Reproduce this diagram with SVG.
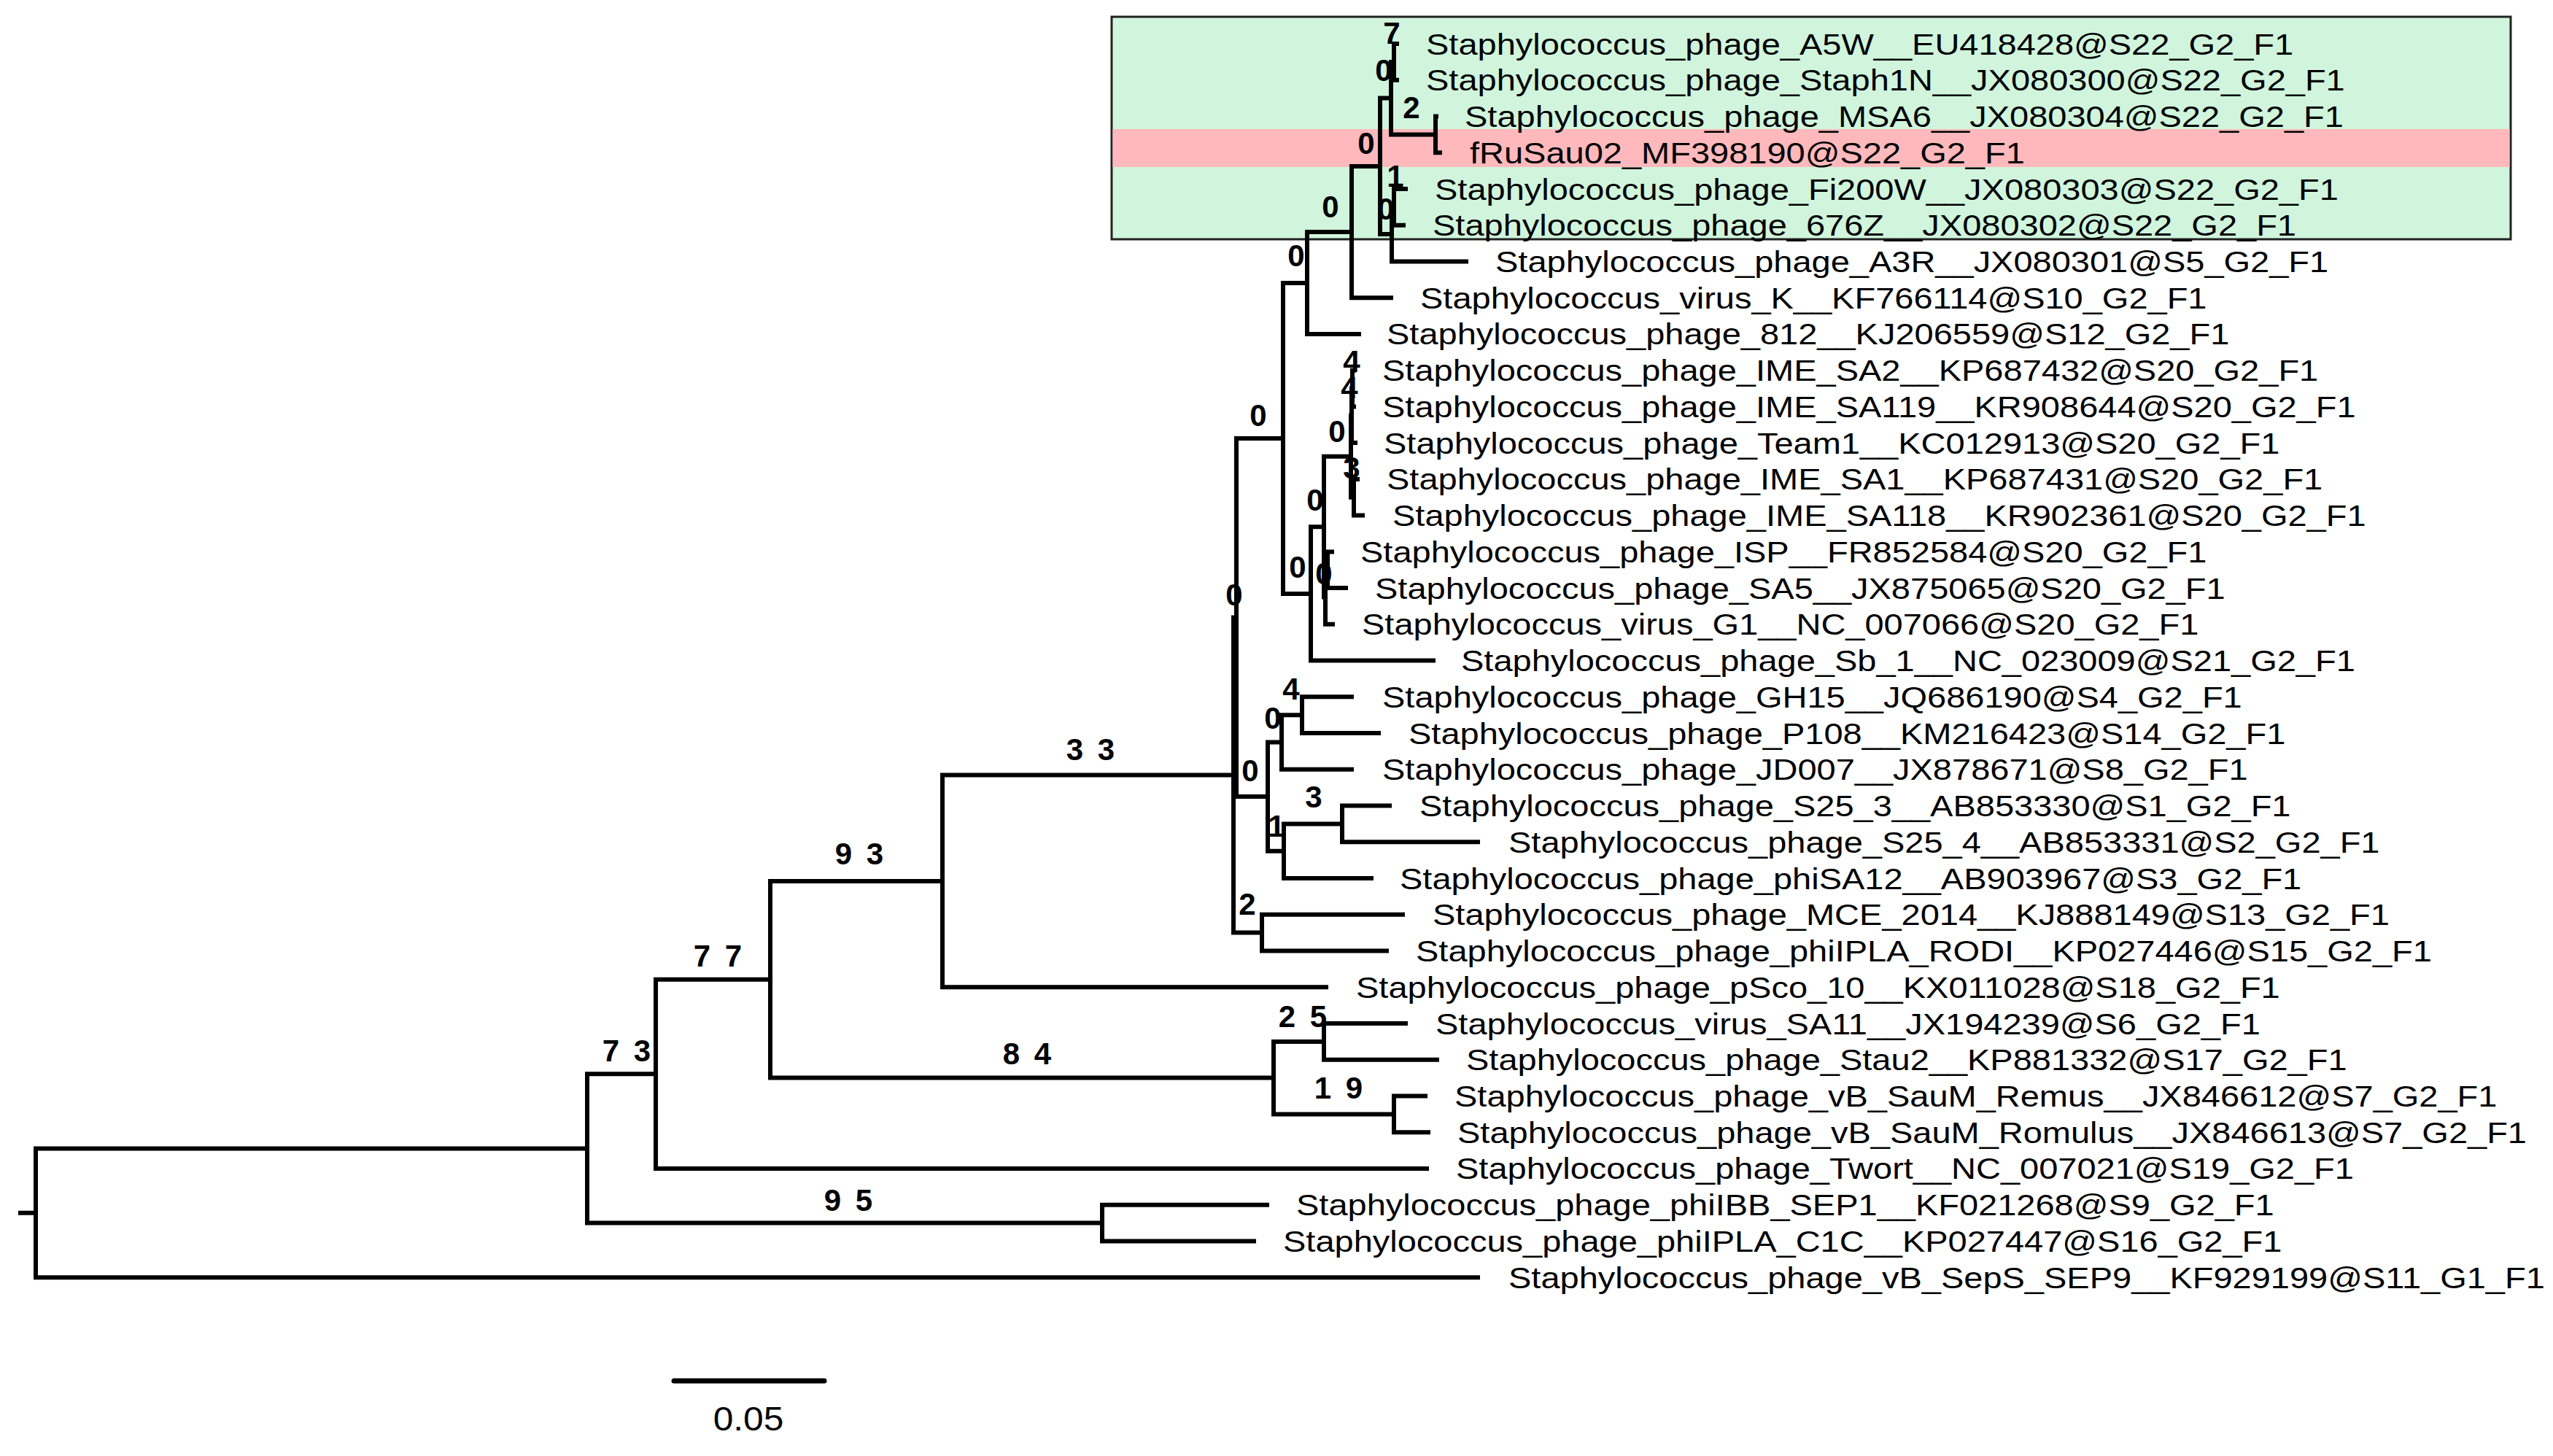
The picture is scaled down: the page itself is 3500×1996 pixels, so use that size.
<svg xmlns="http://www.w3.org/2000/svg" width="3500" height="1996" viewBox="0 0 3500 1996">
<style>
.br{fill:none;stroke:#000;stroke-width:6;stroke-linecap:square;stroke-linejoin:miter}
.leaf{font-family:"Liberation Sans",Arial,sans-serif;font-size:40px;fill:#000}
.bs{font-family:"Liberation Sans",Arial,sans-serif;font-size:42px;font-weight:bold;fill:#000;text-anchor:middle}
.bs2{font-family:"Liberation Sans",Arial,sans-serif;font-size:42px;font-weight:bold;fill:#000;text-anchor:middle;letter-spacing:4px}
.scale{fill:none;stroke:#000;stroke-width:7;stroke-linecap:round}
.sl{font-family:"Liberation Sans",Arial,sans-serif;font-size:46px;fill:#000;text-anchor:middle}
</style>
<rect width="3500" height="1996" fill="#fff"/>
<g id="highlight">
<rect x="1524" y="23" width="1918" height="305" fill="#D0F5DC" stroke="#222" stroke-width="3"/>
<rect x="1525.5" y="177" width="1915" height="52" fill="#FFB9BC"/>
</g>
<g id="connectors">
<path class="br" d="M28,1662.8H49M49,1574.4V1751.2M49,1574.4H805M49,1751.2H2026"/>
<path class="br" d="M805,1472.3V1676.6M805,1472.3H899M805,1676.6H1511"/>
<path class="br" d="M899,1342.8V1601.9M899,1342.8H1056M899,1601.9H1956"/>
<path class="br" d="M1056,1207.9V1477.6M1056,1207.9H1292M1056,1477.6H1746"/>
<path class="br" d="M1292,1062.6V1353.2M1292,1062.6H1691M1292,1353.2H1818"/>
<path class="br" d="M1691,846.5V1278.6M1691,846.5H1695M1691,1278.6H1730"/>
<path class="br" d="M1730,1253.8V1303.5M1730,1253.8H1923M1730,1303.5H1901"/>
<path class="br" d="M1695,600.9V1092.1M1695,600.9H1759M1695,1092.1H1738"/>
<path class="br" d="M1738,1017.5V1166.7M1738,1017.5H1757M1738,1166.7H1760"/>
<path class="br" d="M1757,980.2V1054.8M1757,980.2H1785M1757,1054.8H1853"/>
<path class="br" d="M1785,955.3V1005.1M1785,955.3H1853M1785,1005.1H1890"/>
<path class="br" d="M1760,1129.4V1204M1760,1129.4H1840M1760,1204H1880"/>
<path class="br" d="M1840,1104.5V1154.3M1840,1104.5H1905M1840,1154.3H2026"/>
<path class="br" d="M1759,388V813.9M1759,388H1792M1759,813.9H1797"/>
<path class="br" d="M1792,318V457.9M1792,318H1853M1792,457.9H1863"/>
<path class="br" d="M1853,227.9V408.2M1853,227.9H1892M1853,408.2H1907"/>
<path class="br" d="M1892,134.6V321.1M1892,134.6H1907M1892,321.1H1908"/>
<path class="br" d="M1907,84.9V184.4M1907,84.9H1911M1907,184.4H1968"/>
<path class="br" d="M1911,60V109.7M1911,60H1915M1911,109.7H1915"/>
<path class="br" d="M1968,159.5V209.2M1968,159.5H1969M1968,209.2H1974"/>
<path class="br" d="M1908,283.8V358.4M1908,283.8H1911M1908,358.4H2010"/>
<path class="br" d="M1911,259V308.7M1911,259H1927M1911,308.7H1924"/>
<path class="br" d="M1797,722.2V905.6M1797,722.2H1815M1797,905.6H1965"/>
<path class="br" d="M1815,625.8V818.5M1815,625.8H1852M1815,818.5H1817"/>
<path class="br" d="M1852,569.8V681.7M1852,569.8H1853M1852,681.7H1856"/>
<path class="br" d="M1853,532.5V607.1M1853,532.5H1854M1853,607.1H1858"/>
<path class="br" d="M1854,507.7V557.4M1854,507.7H1856M1854,557.4H1856"/>
<path class="br" d="M1856,656.9V706.6M1856,656.9H1861M1856,706.6H1868"/>
<path class="br" d="M1817,781.2V855.8M1817,781.2H1820M1817,855.8H1827"/>
<path class="br" d="M1820,756.4V806.1M1820,756.4H1826M1820,806.1H1845"/>
<path class="br" d="M1746,1427.9V1527.4M1746,1427.9H1815M1746,1527.4H1911"/>
<path class="br" d="M1815,1403V1452.7M1815,1403H1927M1815,1452.7H1970"/>
<path class="br" d="M1911,1502.5V1552.2M1911,1502.5H1954M1911,1552.2H1958"/>
<path class="br" d="M1511,1651.7V1701.4M1511,1651.7H1737M1511,1701.4H1719"/>
</g>
<g id="leaves">
<g id="leaf-A5W"><text class="leaf" transform="translate(1955 74.5) scale(1.175 1)">Staphylococcus_phage_A5W__EU418428@S22_G2_F1</text></g>
<g id="leaf-Staph1N"><text class="leaf" transform="translate(1955 124.2) scale(1.175 1)">Staphylococcus_phage_Staph1N__JX080300@S22_G2_F1</text></g>
<g id="leaf-MSA6"><text class="leaf" transform="translate(2008 174) scale(1.175 1)">Staphylococcus_phage_MSA6__JX080304@S22_G2_F1</text></g>
<g id="leaf-fRuSau02"><text class="leaf" transform="translate(2015 223.7) scale(1.175 1)">fRuSau02_MF398190@S22_G2_F1</text></g>
<g id="leaf-Fi200W"><text class="leaf" transform="translate(1967 273.5) scale(1.175 1)">Staphylococcus_phage_Fi200W__JX080303@S22_G2_F1</text></g>
<g id="leaf-676Z"><text class="leaf" transform="translate(1964 323.2) scale(1.175 1)">Staphylococcus_phage_676Z__JX080302@S22_G2_F1</text></g>
<g id="leaf-A3R"><text class="leaf" transform="translate(2050 372.9) scale(1.175 1)">Staphylococcus_phage_A3R__JX080301@S5_G2_F1</text></g>
<g id="leaf-K"><text class="leaf" transform="translate(1947 422.7) scale(1.175 1)">Staphylococcus_virus_K__KF766114@S10_G2_F1</text></g>
<g id="leaf-812"><text class="leaf" transform="translate(1901 472.4) scale(1.175 1)">Staphylococcus_phage_812__KJ206559@S12_G2_F1</text></g>
<g id="leaf-IME_SA2"><text class="leaf" transform="translate(1895 522.2) scale(1.175 1)">Staphylococcus_phage_IME_SA2__KP687432@S20_G2_F1</text></g>
<g id="leaf-IME_SA119"><text class="leaf" transform="translate(1895 571.9) scale(1.175 1)">Staphylococcus_phage_IME_SA119__KR908644@S20_G2_F1</text></g>
<g id="leaf-Team1"><text class="leaf" transform="translate(1897 621.6) scale(1.175 1)">Staphylococcus_phage_Team1__KC012913@S20_G2_F1</text></g>
<g id="leaf-IME_SA1"><text class="leaf" transform="translate(1901 671.4) scale(1.175 1)">Staphylococcus_phage_IME_SA1__KP687431@S20_G2_F1</text></g>
<g id="leaf-IME_SA118"><text class="leaf" transform="translate(1909 721.1) scale(1.175 1)">Staphylococcus_phage_IME_SA118__KR902361@S20_G2_F1</text></g>
<g id="leaf-ISP"><text class="leaf" transform="translate(1865 770.9) scale(1.175 1)">Staphylococcus_phage_ISP__FR852584@S20_G2_F1</text></g>
<g id="leaf-SA5"><text class="leaf" transform="translate(1885 820.6) scale(1.175 1)">Staphylococcus_phage_SA5__JX875065@S20_G2_F1</text></g>
<g id="leaf-G1"><text class="leaf" transform="translate(1867 870.3) scale(1.175 1)">Staphylococcus_virus_G1__NC_007066@S20_G2_F1</text></g>
<g id="leaf-Sb_1"><text class="leaf" transform="translate(2003 920.1) scale(1.175 1)">Staphylococcus_phage_Sb_1__NC_023009@S21_G2_F1</text></g>
<g id="leaf-GH15"><text class="leaf" transform="translate(1895 969.8) scale(1.175 1)">Staphylococcus_phage_GH15__JQ686190@S4_G2_F1</text></g>
<g id="leaf-P108"><text class="leaf" transform="translate(1931 1019.6) scale(1.175 1)">Staphylococcus_phage_P108__KM216423@S14_G2_F1</text></g>
<g id="leaf-JD007"><text class="leaf" transform="translate(1895 1069.3) scale(1.175 1)">Staphylococcus_phage_JD007__JX878671@S8_G2_F1</text></g>
<g id="leaf-S25_3"><text class="leaf" transform="translate(1946 1119) scale(1.175 1)">Staphylococcus_phage_S25_3__AB853330@S1_G2_F1</text></g>
<g id="leaf-S25_4"><text class="leaf" transform="translate(2068 1168.8) scale(1.175 1)">Staphylococcus_phage_S25_4__AB853331@S2_G2_F1</text></g>
<g id="leaf-phiSA12"><text class="leaf" transform="translate(1919 1218.5) scale(1.175 1)">Staphylococcus_phage_phiSA12__AB903967@S3_G2_F1</text></g>
<g id="leaf-MCE_2014"><text class="leaf" transform="translate(1964 1268.3) scale(1.175 1)">Staphylococcus_phage_MCE_2014__KJ888149@S13_G2_F1</text></g>
<g id="leaf-phiIPLA_RODI"><text class="leaf" transform="translate(1941 1318) scale(1.175 1)">Staphylococcus_phage_phiIPLA_RODI__KP027446@S15_G2_F1</text></g>
<g id="leaf-pSco_10"><text class="leaf" transform="translate(1859 1367.7) scale(1.175 1)">Staphylococcus_phage_pSco_10__KX011028@S18_G2_F1</text></g>
<g id="leaf-SA11"><text class="leaf" transform="translate(1968 1417.5) scale(1.175 1)">Staphylococcus_virus_SA11__JX194239@S6_G2_F1</text></g>
<g id="leaf-Stau2"><text class="leaf" transform="translate(2010 1467.2) scale(1.175 1)">Staphylococcus_phage_Stau2__KP881332@S17_G2_F1</text></g>
<g id="leaf-Remus"><text class="leaf" transform="translate(1994 1517) scale(1.175 1)">Staphylococcus_phage_vB_SauM_Remus__JX846612@S7_G2_F1</text></g>
<g id="leaf-Romulus"><text class="leaf" transform="translate(1998 1566.7) scale(1.175 1)">Staphylococcus_phage_vB_SauM_Romulus__JX846613@S7_G2_F1</text></g>
<g id="leaf-Twort"><text class="leaf" transform="translate(1996 1616.4) scale(1.175 1)">Staphylococcus_phage_Twort__NC_007021@S19_G2_F1</text></g>
<g id="leaf-phiIBB_SEP1"><text class="leaf" transform="translate(1777 1666.2) scale(1.175 1)">Staphylococcus_phage_phiIBB_SEP1__KF021268@S9_G2_F1</text></g>
<g id="leaf-phiIPLA_C1C"><text class="leaf" transform="translate(1759 1715.9) scale(1.175 1)">Staphylococcus_phage_phiIPLA_C1C__KP027447@S16_G2_F1</text></g>
<g id="leaf-SEP9"><text class="leaf" transform="translate(2068 1765.7) scale(1.175 1)">Staphylococcus_phage_vB_SepS_SEP9__KF929199@S11_G1_F1</text></g>
</g>
<g id="support">
<g id="n-N7"><text class="bs" x="1908" y="60">7</text></g>
<g id="n-Q5"><text class="bs" x="1897" y="111">0</text></g>
<g id="n-N2"><text class="bs" x="1935" y="162">2</text></g>
<g id="n-Q4"><text class="bs" x="1873" y="211">0</text></g>
<g id="n-Q7"><text class="bs" x="1913" y="256">1</text></g>
<g id="n-Q6"><text class="bs" x="1900" y="301">0</text></g>
<g id="n-Q3"><text class="bs" x="1824" y="298">0</text></g>
<g id="n-Q2"><text class="bs" x="1777" y="365">0</text></g>
<g id="n-A4a"><text class="bs" x="1853" y="510">4</text></g>
<g id="n-A4b"><text class="bs" x="1850" y="546">4</text></g>
<g id="n-R3"><text class="bs" x="1833" y="606">0</text></g>
<g id="n-Q1"><text class="bs" x="1725" y="584">0</text></g>
<g id="n-A3"><text class="bs" x="1853" y="656">3</text></g>
<g id="n-R2"><text class="bs" x="1803" y="700">0</text></g>
<g id="n-R1"><text class="bs" x="1779" y="792">0</text></g>
<g id="n-R4"><text class="bs" x="1815" y="801">0</text></g>
<g id="n-Qp"><text class="bs" x="1692" y="830">0</text></g>
<g id="n-V"><text class="bs" x="1770" y="959">4</text></g>
<g id="n-T"><text class="bs" x="1745" y="999">0</text></g>
<g id="n-S"><text class="bs" x="1714" y="1071">0</text></g>
<g id="n-W"><text class="bs" x="1801" y="1107">3</text></g>
<g id="n-U"><text class="bs" x="1750" y="1147">1</text></g>
<g id="n-M"><text class="bs" x="1710" y="1254">2</text></g>
<g id="n-P"><text class="bs2" x="1497" y="1042">3 3</text></g>
<g id="n-33"><text class="bs2" x="1180" y="1185">9 3</text></g>
<g id="n-93"><text class="bs2" x="986" y="1325">7 7</text></g>
<g id="n-77"><text class="bs2" x="861" y="1455">7 3</text></g>
<g id="n-84"><text class="bs2" x="1410" y="1459">8 4</text></g>
<g id="n-25"><text class="bs2" x="1788" y="1408">2 5</text></g>
<g id="n-19"><text class="bs2" x="1837" y="1506">1 9</text></g>
<g id="n-95"><text class="bs2" x="1165" y="1660">9 5</text></g>
</g>
<g id="scalebar">
<line class="scale" x1="924" y1="1893" x2="1130" y2="1893"/>
<text class="sl" transform="translate(1026 1961) scale(1.08 1)">0.05</text>
</g>
</svg>
